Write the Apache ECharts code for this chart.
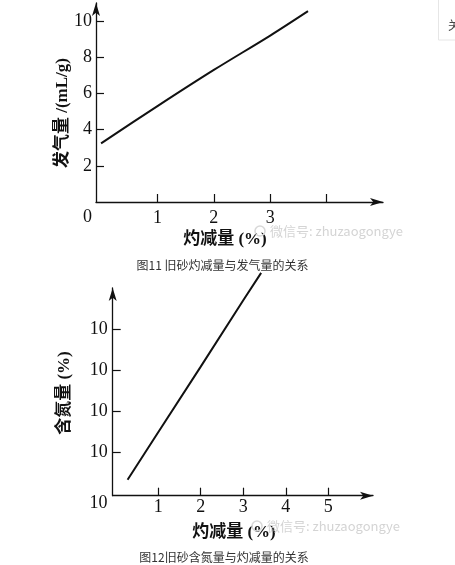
<!DOCTYPE html>
<html>
<head>
<meta charset="utf-8">
<script src="https://cdn.jsdelivr.net/npm/echarts@6/dist/echarts.min.js"></script>
<style>
html,body{margin:0;padding:0;background:#fff;}
#main{width:455px;height:565px;}
</style>
</head>
<body>
<div id="main"></div>
<script>
// Chart 1: 灼减量 vs 发气量
const lossX1 = [0, 1, 2, 3, 3.67];
const gasY1 = [3.24, 5.3, 7.3, 9.2, 10.55];
const xTicks1 = [1, 2, 3, 4];
const xLabels1 = [1, 2, 3];
const yTicks1 = [2, 4, 6, 8, 10];

// Chart 2: 灼减量 vs 含氮量
const lossX2 = [0.28, 1.0, 2.0, 3.0, 3.42];
const nitroY2 = [0.32, 1.48, 3.08, 4.70, 5.37];
const xTicks2 = [1, 2, 3, 4, 5];
const yTicks2 = [1, 2, 3, 4];
const yLabelText2 = '10';

const serif = '"Liberation Serif", "Times New Roman", serif';
const cjk = '"Liberation Serif", "Noto Sans CJK SC", serif';
const ink = '#111';

function pairs(xs, ys){ return xs.map((x,i)=>[x, ys[i]]); }

const axisLineStyle = { color: ink, width: 1.3 };

const chart = echarts.init(document.getElementById('main'), null, {renderer:'canvas'});
const option = {
  backgroundColor: '#fff',
  animation: false,
  grid: [
    { left: 96, top: 3, width: 287, height: 199 },
    { left: 112.7, top: 288, width: 260.3, height: 207.7 }
  ],
  xAxis: [
    { gridIndex: 0, type: 'value', min: -0.09, max: 5,
      axisLine: { show: true, onZero: false, lineStyle: axisLineStyle, symbol: ['none','arrow'], symbolSize: [6, 13] },
      axisTick: { show: true, inside: true, length: 8, lineStyle: { color: ink, width: 1.2 }, customValues: xTicks1 },
      axisLabel: { customValues: xLabels1, margin: 7, color: ink, fontFamily: serif, fontSize: 18 },
      splitLine: { show: false } },
    { gridIndex: 1, type: 'value', min: -0.07, max: 6.05,
      axisLine: { show: true, onZero: false, lineStyle: axisLineStyle, symbol: ['none','arrow'], symbolSize: [6, 13] },
      axisTick: { show: true, inside: true, length: 8, lineStyle: { color: ink, width: 1.2 }, customValues: xTicks2 },
      axisLabel: { customValues: xTicks2, margin: 3, color: ink, fontFamily: serif, fontSize: 18 },
      splitLine: { show: false } }
  ],
  yAxis: [
    { gridIndex: 0, type: 'value', min: 0, max: 11,
      axisLine: { show: true, onZero: false, lineStyle: axisLineStyle, symbol: ['none','arrow'], symbolSize: [6, 13] },
      axisTick: { show: true, inside: true, length: 8, lineStyle: { color: ink, width: 1.2 }, customValues: yTicks1 },
      axisLabel: { customValues: yTicks1, margin: 4, color: ink, fontFamily: serif, fontSize: 18 },
      splitLine: { show: false } },
    { gridIndex: 1, type: 'value', min: -0.07, max: 5,
      axisLine: { show: true, onZero: false, lineStyle: axisLineStyle, symbol: ['none','arrow'], symbolSize: [6, 13] },
      axisTick: { show: true, inside: true, length: 8, lineStyle: { color: ink, width: 1.2 }, customValues: yTicks2 },
      axisLabel: { customValues: yTicks2, margin: 5, color: ink, fontFamily: serif, fontSize: 18,
                   formatter: function(){ return yLabelText2; } },
      splitLine: { show: false } }
  ],
  series: [
    { type: 'line', xAxisIndex: 0, yAxisIndex: 0, data: pairs(lossX1, gasY1),
      showSymbol: false, symbol: 'none', smooth: 0.3, clip: false,
      lineStyle: { color: ink, width: 2 } },
    { type: 'line', xAxisIndex: 1, yAxisIndex: 1, data: pairs(lossX2, nitroY2),
      showSymbol: false, symbol: 'none', smooth: false, clip: false,
      lineStyle: { color: ink, width: 2 } }
  ],
  graphic: [
    // origin labels
    { type: 'text', x: 87.5, y: 217, style: { text: '0', font: '18px ' + serif, fill: ink, align: 'center', verticalAlign: 'middle' } },
    { type: 'text', x: 98.5, y: 503, style: { text: '10', font: '18px ' + serif, fill: ink, align: 'center', verticalAlign: 'middle' } },
    // y axis names
    { type: 'text', x: 63, y: 113, rotation: Math.PI/2, style: { text: '发气量 /(mL/g)', font: 'bold 17px ' + cjk, fill: ink, align: 'center', verticalAlign: 'middle' } },
    { type: 'text', x: 65, y: 393, rotation: Math.PI/2, style: { text: '含氮量 (%)', font: 'bold 17px ' + cjk, fill: ink, align: 'center', verticalAlign: 'middle' } },
    // x axis names
    { type: 'text', x: 225, y: 240, style: { text: '灼减量 (%)', font: 'bold 17px ' + cjk, fill: ink, align: 'center', verticalAlign: 'middle' } },
    { type: 'text', x: 234, y: 533, style: { text: '灼减量 (%)', font: 'bold 17px ' + cjk, fill: ink, align: 'center', verticalAlign: 'middle' } },
    // watermarks
    { type: 'circle', shape: { cx: 260, cy: 231, r: 5 }, style: { fill: 'none', stroke: '#d8d8d8', lineWidth: 1.5 } },
    { type: 'text', x: 270, y: 231, style: { text: '微信号: zhuzaogongye', font: '13px "Noto Sans CJK SC", sans-serif', fill: '#d4d4d4', align: 'left', verticalAlign: 'middle' } },
    { type: 'circle', shape: { cx: 257, cy: 526, r: 5 }, style: { fill: 'none', stroke: '#d8d8d8', lineWidth: 1.5 } },
    { type: 'text', x: 267, y: 526, style: { text: '微信号: zhuzaogongye', font: '13px "Noto Sans CJK SC", sans-serif', fill: '#d4d4d4', align: 'left', verticalAlign: 'middle' } },
    // captions
    { type: 'text', x: 222.5, y: 265, style: { text: '图11 旧砂灼减量与发气量的关系', font: '12px "Noto Sans CJK SC", sans-serif', fill: '#333', align: 'center', verticalAlign: 'middle' } },
    { type: 'text', x: 224, y: 557, style: { text: '图12旧砂含氮量与灼减量的关系', font: '12px "Noto Sans CJK SC", sans-serif', fill: '#333', align: 'center', verticalAlign: 'middle' } },
    // top-right UI fragment
    { type: 'rect', shape: { x: 438.5, y: -2, width: 30, height: 42 }, style: { fill: '#fff', stroke: '#e6e6e6', lineWidth: 1 } },
    { type: 'text', x: 448, y: 25, style: { text: '关', font: '12px "Noto Sans CJK SC", sans-serif', fill: '#444', align: 'left', verticalAlign: 'middle' } }
  ]
};
chart.setOption(option);
</script>
</body>
</html>
